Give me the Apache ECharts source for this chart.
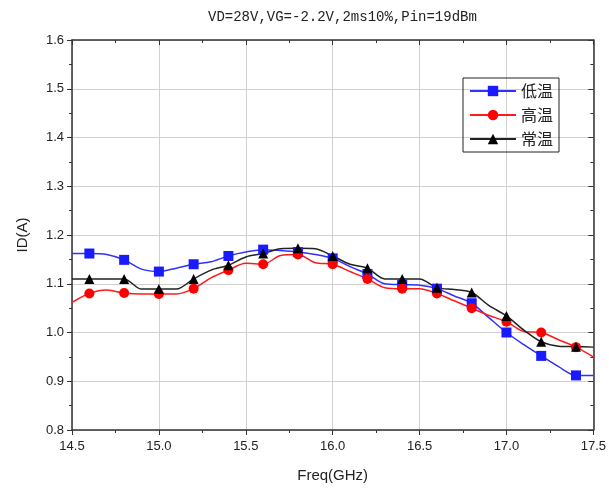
<!DOCTYPE html>
<html><head><meta charset="utf-8">
<script src="https://cdn.jsdelivr.net/npm/echarts@6/dist/echarts.min.js"></script>
<style>html,body{margin:0;padding:0;background:#fff}#c{width:609px;height:490px}</style>
</head><body><div id="c"></div>
<script>
var freq = [14.5,14.6,14.7,14.8,14.9,15.0,15.1,15.2,15.3,15.4,15.5,15.6,15.7,15.8,15.9,16.0,16.1,16.2,16.3,16.4,16.5,16.6,16.7,16.8,16.9,17.0,17.1,17.2,17.3,17.4,17.5];
var lowTemp = [1.162,1.162,1.160,1.149,1.130,1.125,1.132,1.140,1.145,1.157,1.165,1.170,1.168,1.165,1.160,1.152,1.135,1.120,1.100,1.098,1.097,1.090,1.075,1.060,1.030,1.000,0.975,0.952,0.930,0.912,0.912];
var highTemp = [1.062,1.080,1.087,1.081,1.079,1.079,1.079,1.090,1.112,1.128,1.142,1.140,1.158,1.160,1.143,1.140,1.125,1.110,1.092,1.090,1.090,1.080,1.065,1.050,1.035,1.022,1.002,1.000,0.985,0.970,0.950];
var normTemp = [1.110,1.110,1.110,1.110,1.089,1.089,1.089,1.110,1.128,1.138,1.155,1.162,1.172,1.173,1.172,1.157,1.140,1.132,1.110,1.110,1.110,1.092,1.088,1.082,1.055,1.034,1.005,0.981,0.972,0.971,0.970];
var seriesNames = ['低温','高温','常温'];
var titleText = 'VD=28V,VG=-2.2V,2ms10%,Pin=19dBm';

function pairs(ys){ return freq.map(function(f,i){ return [f, ys[i]]; }); }
function markSize(val, p){ return (p.dataIndex % 2 === 1) ? 10 : 0; }

var chart = echarts.init(document.getElementById('c'));
var labelFont = {fontFamily:'Liberation Sans, Arial, sans-serif', fontSize:13, color:'#222'};
chart.setOption({
  animation:false,
  backgroundColor:'#fff',
  title:{text:titleText, left:203, top:5, textStyle:{fontFamily:'Liberation Mono, monospace', fontSize:14, fontWeight:'normal', color:'#222'}},
  grid:{left:72, right:9, top:40, bottom:60},
  legend:{
    orient:'vertical', left:463, top:78, data:seriesNames,
    borderColor:'#222', borderWidth:1, padding:[5,6,5,6], itemGap:8,
    itemWidth:46, itemHeight:13,
    textStyle:{fontFamily:'Noto Sans CJK SC', fontSize:16, color:'#222'}
  },
  xAxis:[{
    type:'value', min:14.5, max:17.5, interval:0.5, position:'bottom',
    name:'Freq(GHz)', nameLocation:'middle', nameGap:38,
    nameTextStyle:{fontFamily:'Liberation Sans, Arial, sans-serif', fontSize:15, color:'#222'},
    axisLine:{onZero:false, lineStyle:{color:'#333', width:1.5}},
    axisTick:{inside:false, length:5, lineStyle:{color:'#333'}},
    minorTick:{show:true, splitNumber:2, length:3, lineStyle:{color:'#333'}},
    axisLabel:Object.assign({formatter:function(v){return v.toFixed(1);}, margin:10}, labelFont),
    splitLine:{show:true, lineStyle:{color:'#d0d0d0', width:1}}
  },{
    type:'value', min:14.5, max:17.5, interval:0.5, position:'top',
    axisLine:{onZero:false, lineStyle:{color:'#333', width:1.5}},
    axisTick:{inside:true, length:5, lineStyle:{color:'#333'}},
    minorTick:{show:true, splitNumber:2, length:3, lineStyle:{color:'#333'}},
    axisLabel:{show:false}, splitLine:{show:false}
  }],
  yAxis:[{
    type:'value', min:0.8, max:1.6, interval:0.1, position:'left',
    name:'ID(A)', nameLocation:'middle', nameGap:42, nameRotate:90,
    nameTextStyle:{fontFamily:'Liberation Sans, Arial, sans-serif', fontSize:15, color:'#222'},
    axisLine:{show:true, onZero:false, lineStyle:{color:'#333', width:1.5}},
    axisTick:{show:true, inside:false, length:5, lineStyle:{color:'#333'}},
    minorTick:{show:true, splitNumber:2, length:3, lineStyle:{color:'#333'}},
    axisLabel:Object.assign({formatter:function(v){return v.toFixed(1);}, margin:8}, labelFont),
    splitLine:{show:true, lineStyle:{color:'#d0d0d0', width:1}}
  },{
    type:'value', min:0.8, max:1.6, interval:0.1, position:'right',
    axisLine:{show:true, onZero:false, lineStyle:{color:'#333', width:1.5}},
    axisTick:{show:true, inside:true, length:5, lineStyle:{color:'#333'}},
    minorTick:{show:true, splitNumber:2, length:3, lineStyle:{color:'#333'}},
    axisLabel:{show:false}, splitLine:{show:false}
  }],
  series:[
    {name:seriesNames[0], type:'line', data:pairs(lowTemp), smooth:0.3, symbol:'rect', symbolSize:markSize, showAllSymbol:true,
     itemStyle:{color:'#1a1aff'}, lineStyle:{color:'#3030ff', width:1.5}},
    {name:seriesNames[1], type:'line', data:pairs(highTemp), smooth:0.3, symbol:'circle', symbolSize:markSize, showAllSymbol:true,
     itemStyle:{color:'#ff0000'}, lineStyle:{color:'#ff1a1a', width:1.5}},
    {name:seriesNames[2], type:'line', data:pairs(normTemp), smooth:0.3, symbol:'triangle', symbolSize:markSize, showAllSymbol:true,
     itemStyle:{color:'#000'}, lineStyle:{color:'#222', width:1.5}}
  ]
});
</script></body></html>
